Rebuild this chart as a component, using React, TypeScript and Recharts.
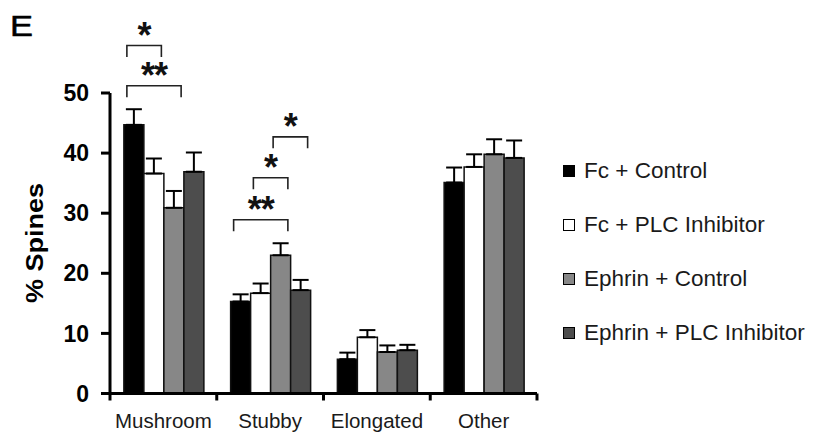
import { BarChart, Bar, XAxis, YAxis, ErrorBar, Legend, Customized } from 'recharts'

const categories = ['Mushroom', 'Stubby', 'Elongated', 'Other']

const fcControl = [44.7, 15.3, 5.7, 35.1]
const fcControlErr = [2.6, 1.2, 1.1, 2.5]
const fcPlc = [36.6, 16.7, 9.35, 37.7]
const fcPlcErr = [2.5, 1.6, 1.2, 2.1]
const ephrinControl = [30.9, 23.0, 6.9, 39.8]
const ephrinControlErr = [2.8, 2.0, 1.1, 2.5]
const ephrinPlc = [36.9, 17.2, 7.2, 39.2]
const ephrinPlcErr = [3.2, 1.7, 0.9, 2.9]

const yTicks = [0, 10, 20, 30, 40, 50]

// significance brackets: category, first bar, last bar, bracket height (% spines)
const brackets = [
  { cat: 0, from: 0, to: 1, y: 57.9, label: '*' },
  { cat: 0, from: 0, to: 2, y: 51.2, label: '**' },
  { cat: 1, from: 0, to: 2, y: 28.9, label: '**' },
  { cat: 1, from: 1, to: 2, y: 35.9, label: '*' },
  { cat: 1, from: 2, to: 3, y: 42.7, label: '*' },
]

const series = [
  { key: 'fcControl', err: 'fcControlErr', name: 'Fc + Control', fill: '#000000' },
  { key: 'fcPlc', err: 'fcPlcErr', name: 'Fc + PLC Inhibitor', fill: '#ffffff' },
  { key: 'ephrinControl', err: 'ephrinControlErr', name: 'Ephrin + Control', fill: '#878787' },
  { key: 'ephrinPlc', err: 'ephrinPlcErr', name: 'Ephrin + PLC Inhibitor', fill: '#4d4d4d' },
]

const data = categories.map((name, i) => ({
  name,
  fcControl: fcControl[i],
  fcControlErr: fcControlErr[i],
  fcPlc: fcPlc[i],
  fcPlcErr: fcPlcErr[i],
  ephrinControl: ephrinControl[i],
  ephrinControlErr: ephrinControlErr[i],
  ephrinPlc: ephrinPlc[i],
  ephrinPlcErr: ephrinPlcErr[i],
}))

const FONT = '"Liberation Sans", Arial, Helvetica, sans-serif'
const W = 817
const H = 440
const PLOT_LEFT = 110
const PLOT_RIGHT = 537
const PLOT_TOP = 93
const PLOT_BOTTOM = 393.5
const Y_MAX = 50
const BAND = (PLOT_RIGHT - PLOT_LEFT) / categories.length
const GAP = 0.13
const BAR_W = (BAND * (1 - 2 * GAP)) / series.length

const toY = (v: number) => PLOT_BOTTOM - (v / Y_MAX) * (PLOT_BOTTOM - PLOT_TOP)

function CategoryTick(props: any) {
  const { x, payload, index } = props
  const left = x - BAND / 2
  const right = x + BAND / 2
  return (
    <g>
      <line x1={left} x2={left} y1={PLOT_BOTTOM} y2={PLOT_BOTTOM + 7} stroke="#000" strokeWidth={3} />
      {index === categories.length - 1 && (
        <line x1={right} x2={right} y1={PLOT_BOTTOM} y2={PLOT_BOTTOM + 7} stroke="#000" strokeWidth={3} />
      )}
      <text x={x} y={428} textAnchor="middle" fontSize={20.5} fontFamily={FONT} fill="#1a1a1a">
        {payload.value}
      </text>
    </g>
  )
}

function Annotations() {
  return (
    <g>
      <text
        x={10}
        y={36}
        fontSize={29}
        fontFamily={FONT}
        textLength={23}
        lengthAdjust="spacingAndGlyphs"
        fill="#000"
        stroke="#000"
        strokeWidth={0.5}
      >
        E
      </text>
      <text
        x={0}
        y={0}
        transform="translate(43, 243) rotate(-90)"
        textAnchor="middle"
        fontSize={24}
        fontWeight="bold"
        fontFamily={FONT}
        textLength={120}
        lengthAdjust="spacingAndGlyphs"
        fill="#000"
      >
        % Spines
      </text>
      {brackets.map((b, i) => {
        const start = PLOT_LEFT + b.cat * BAND + BAND * GAP
        const x1 = start + b.from * BAR_W + 3
        const x2 = start + (b.to + 1) * BAR_W - 2
        const top = toY(b.y)
        const leg = top + 11.5
        return (
          <g key={i}>
            <path d={`M${x1},${leg} L${x1},${top} L${x2},${top} L${x2},${leg}`} fill="none" stroke="#222" strokeWidth={1.6} />
            <text
              x={(x1 + x2) / 2}
              y={top + 2}
              textAnchor="middle"
              fontSize={36}
              fontWeight="bold"
              fontFamily={FONT}
              letterSpacing={-1}
              fill="#111"
            >
              {b.label}
            </text>
          </g>
        )
      })}
    </g>
  )
}

function LegendContent() {
  return (
    <div style={{ fontFamily: FONT }}>
      {series.map((s) => (
        <div key={s.key} style={{ height: 54, display: 'flex', alignItems: 'center' }}>
          <div style={{ width: 10, height: 10, background: s.fill, border: '1px solid #000', marginRight: 9 }} />
          <span style={{ fontSize: 22.5, color: '#1a1a1a' }}>{s.name}</span>
        </div>
      ))}
    </div>
  )
}

export default function App() {
  return (
    <div style={{ position: 'absolute', left: 0, top: 0, width: W, height: H, background: '#fff' }}>
      <BarChart
        width={W}
        height={H}
        data={data}
        margin={{ top: PLOT_TOP, right: W - PLOT_RIGHT, bottom: 0, left: 0 }}
        barCategoryGap={`${GAP * 100}%`}
        barGap={0}
      >
        <XAxis
          dataKey="name"
          height={H - PLOT_BOTTOM}
          axisLine={{ stroke: '#000', strokeWidth: 3 }}
          tickLine={false}
          tick={<CategoryTick />}
          interval={0}
        />
        <YAxis
          width={PLOT_LEFT}
          domain={[0, Y_MAX]}
          ticks={yTicks}
          axisLine={{ stroke: '#000', strokeWidth: 3 }}
          tickLine={{ stroke: '#000', strokeWidth: 3 }}
          tickSize={9}
          tickMargin={12}
          tick={{ fontSize: 23, fontWeight: 'bold', fill: '#000', fontFamily: FONT }}
        />
        {series.map((s) => (
          <Bar key={s.key} dataKey={s.key} name={s.name} fill={s.fill} stroke="#111" strokeWidth={1.5} isAnimationActive={false}>
            <ErrorBar
              dataKey={(d: any) => [0, d[s.err]]}
              width={8}
              stroke="#000"
              strokeWidth={2}
              isAnimationActive={false}
            />
          </Bar>
        ))}
        <Legend
          layout="horizontal"
          verticalAlign="middle"
          align="center"
          content={<LegendContent />}
          wrapperStyle={{ position: 'absolute', left: 563, top: 144, width: 254 }}
        />
        <Customized component={<Annotations />} />
      </BarChart>
    </div>
  )
}
